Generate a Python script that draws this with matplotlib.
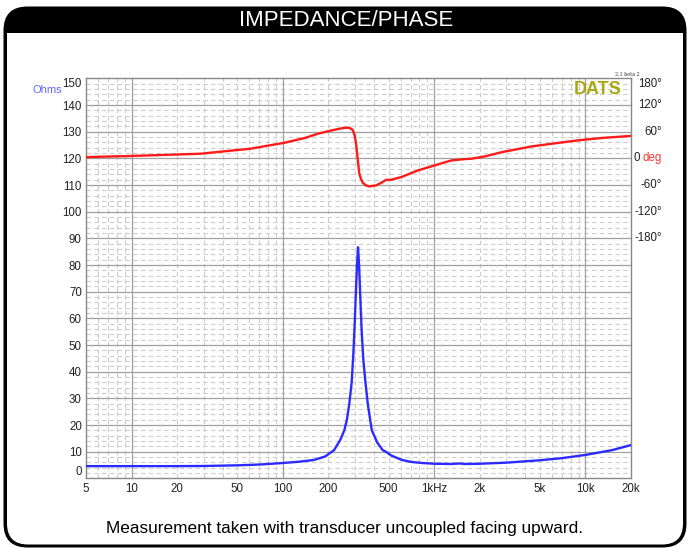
import numpy as np
import matplotlib
matplotlib.use("Agg")
import matplotlib.pyplot as plt
from matplotlib.patches import FancyBboxPatch, Rectangle

plt.rcParams['font.family'] = ['Liberation Sans', 'DejaVu Sans']

# ---- data ----
freq_z = [5, 10, 20, 30, 50, 70, 96, 125, 160, 190, 218, 240, 255, 265, 275, 285,
          292, 298, 304, 309, 314, 319, 325, 332, 340, 350, 365, 387, 420, 457, 480,
          520, 606, 700, 822, 1000, 1300, 1470, 1600, 2000, 3000, 5000, 7000, 10000,
          15000, 20000]
impedance = [4.6, 4.6, 4.6, 4.65, 4.9, 5.2, 5.7, 6.2, 6.9, 8.2, 10.6, 14.5, 18.1, 22,
             28, 36, 46, 57, 70, 80, 86.7, 80, 68, 55, 45, 37, 27.5, 18.1, 13.5, 10.6,
             10.0, 8.6, 7.0, 6.2, 5.8, 5.5, 5.4, 5.6, 5.4, 5.5, 5.9, 6.8, 7.6, 8.8,
             10.6, 12.5]

freq_p = [5, 10, 28.5, 61, 102, 140, 170, 210, 242, 260, 275, 290, 298, 305, 313, 320,
          328, 338, 355, 373, 414, 458, 482, 500, 520, 606, 782, 1008, 1300, 1595,
          1767, 2165, 2793, 4416, 6985, 9485, 12876, 20000]
phase = [2.9, 5.5, 10.5, 21.8, 35, 46, 55.5, 63, 67.5, 69, 69, 64, 52, 33, -4.5, -34,
         -46, -55, -61, -63, -60.7, -53, -48, -48.5, -48, -42, -27, -15.7, -4.5, -1.5,
         -0.7, 4.5, 14, 27, 36, 41.6, 46, 50.6]

x_ticks = [5, 10, 20, 50, 100, 200, 500, 1000, 2000, 5000, 10000, 20000]
x_labels = ["5", "10", "20", "50", "100", "200", "500", "1kHz", "2k", "5k", "10k", "20k"]
y_ticks = list(range(0, 151, 10))
phase_ticks = [180, 120, 60, 0, -60, -120, -180]
phase_labels = ["180°", "120°", "60°", "0", "-60°", "-120°", "-180°"]

W, H = 690, 550
fig = plt.figure(figsize=(W / 100, H / 100), dpi=100)

# ---- background frame ----
bg = fig.add_axes([0, 0, 1, 1], zorder=0)
bg.set_xlim(0, W)
bg.set_ylim(H, 0)
bg.axis('off')
bg.add_patch(FancyBboxPatch((3.5, 6.5), 683, 541, boxstyle='round,pad=0,rounding_size=24',
                            fc='black', ec='none'))
bg.add_patch(FancyBboxPatch((7, 33), 676, 511.5, boxstyle='round,pad=0,rounding_size=21',
                            fc='white', ec='none'))
bg.add_patch(Rectangle((7, 33), 676, 60, fc='white', ec='none'))
bg.text(346, 21, "IMPEDANCE/PHASE", color='white', fontsize=16, ha='center', va='center')
bg.text(345, 528, "Measurement taken with transducer uncoupled facing upward.",
        fontsize=12.4, ha='center', va='center', color='black')
bg.text(62, 90, "Ohms", color='#6666ff', fontsize=8, ha='right', va='center')

# ---- main axes ----
ax = fig.add_axes([86 / W, (H - 478.4) / H, 545 / W, 400 / H], zorder=1)
ax.set_xscale('log')
ax.set_xlim(5, 20000)
ax.set_ylim(0, 150)

# grid
minor_x = [m * 10 ** d for d in range(0, 5) for m in range(2, 10) if 5 < m * 10 ** d < 20000]
for xv in [6, 7, 8, 9] + minor_x:
    ax.axvline(xv, color='#cccccc', lw=0.8, ls=(0, (4, 3)), zorder=0)
for yv in range(2, 150, 2):
    if yv % 10:
        ax.axhline(yv, color='#cccccc', lw=0.8, ls=(0, (4, 3)), zorder=0)
for xv in [10, 100, 1000, 10000]:
    ax.axvline(xv, color='#a0a0a0', lw=0.9, zorder=0.5)
for yv in range(10, 150, 10):
    ax.axhline(yv, color='#a0a0a0', lw=0.9, zorder=0.5)

ax.plot(freq_z, impedance, color='#2b2bff', lw=1.7, zorder=3, solid_joinstyle='round')

ax.set_xticks(x_ticks)
ax.set_xticklabels(x_labels)
ax.xaxis.set_minor_locator(matplotlib.ticker.NullLocator())
ax.set_yticks(y_ticks)
ax.set_yticklabels([str(v) for v in y_ticks])
ax.tick_params(axis='both', length=0, labelsize=8.3, colors='#222222')
ax.tick_params(axis='x', pad=3.5)
ax.tick_params(axis='y', pad=3)
ylabs = ax.get_yticklabels()
ylabs[0].set_va('bottom')
ylabs[-1].set_va('top')
for s in ax.spines.values():
    s.set_color('#888888')
    s.set_linewidth(1.0)

# ---- phase on twin axis ----
ax2 = ax.twinx()
ax2.set_ylim((0 - 120) * 6, (150 - 120) * 6)
ax2.set_yticks([])
ax2.plot(freq_p, phase, color='#ff1a1a', lw=1.7, zorder=3, solid_joinstyle='round')
for s in ax2.spines.values():
    s.set_visible(False)
tr = ax2.get_yaxis_transform()
xr = (662 - 86) / 545
for v, lab in zip(phase_ticks, phase_labels):
    va = 'top' if v == 180 else 'center'
    ax2.text(xr if lab != "0" else (640 - 86) / 545, v, lab, transform=tr,
             ha='right', va=va, fontsize=8.3, color='#222222', clip_on=False)
ax2.text(xr, 0, "deg", transform=tr, ha='right', va='center', fontsize=8.3,
         color='#ff3333', clip_on=False)

# labels inside plot
ax.text((622 - 86) / 545, 0.993, "DATS", transform=ax.transAxes, ha='right', va='top',
        fontsize=13, fontweight='bold', color='#a8a812', zorder=5)
bg.text(640, 74, "2.1 beta 2", fontsize=3.5, ha='right', va='center',
        family='DejaVu Serif', color='#333333')

fig.savefig("out.png", dpi=100)
